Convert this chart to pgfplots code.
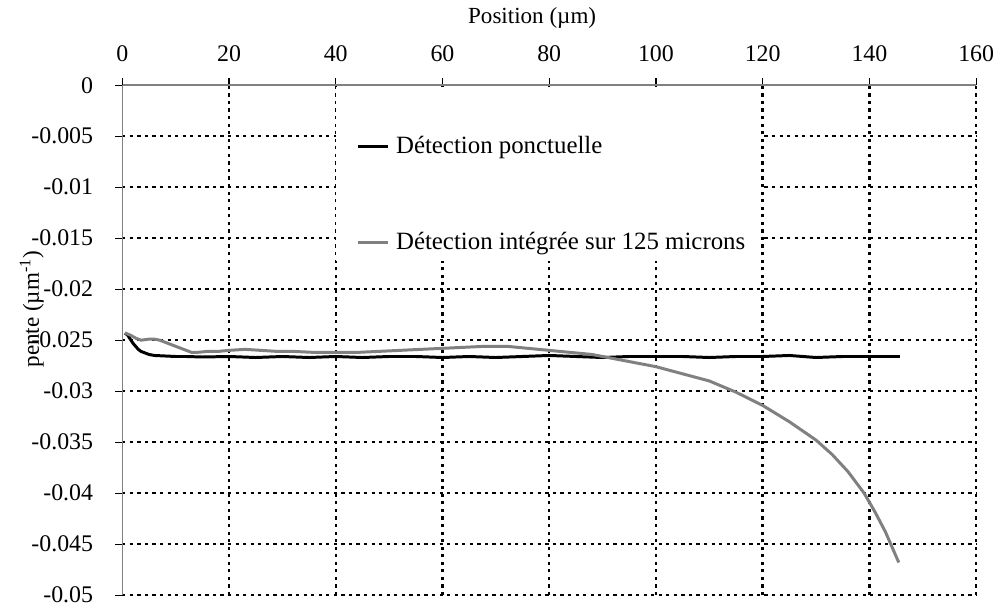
\documentclass[border=0pt,12pt]{standalone}
\usepackage{fontspec}
\setmainfont{Liberation Serif}
\usepackage{pgfplots}
\pgfplotsset{compat=1.18}
\definecolor{sgray}{RGB}{128,128,128}
\begin{document}
\begin{tikzpicture}
\begin{axis}[
  scale only axis,
  width=429.5pt, height=256.5pt,
  xmin=0, xmax=160, ymin=-0.05, ymax=0,
  axis x line*=top, axis y line*=left,
  axis line style={sgray, line width=0.75pt, -},
  xtick={20,40,...,160},
  xticklabels={20,40,60,80,100,120,140,160},
  extra x ticks={0}, extra x tick labels={0},
  ytick={-0.05,-0.045,-0.04,-0.035,-0.03,-0.025,-0.02,-0.015,-0.01,-0.005},
  yticklabels={-0.05,-0.045,-0.04,-0.035,-0.03,-0.025,-0.02,-0.015,-0.01,-0.005},
  extra y ticks={0}, extra y tick labels={0},
  extra tick style={grid=none},
  scaled y ticks=false,
  tick align=outside,
  major tick length=3.5pt,
  tick style={black, line width=0.6pt},
  grid=major,
  major grid style={black, line width=1.25pt, dash pattern=on 1.6pt off 2.2pt},
  tick label style={font=\fontsize{12}{14}\selectfont},
  label style={font=\fontsize{11.6}{14}\selectfont},
  xticklabel style={yshift=4pt},
  yticklabel style={xshift=-7pt},
  xlabel={Position (µm)},
  xlabel style={at={(rel axis cs:0.48,1.131)}, anchor=center},
  ylabel={pente (µm\textsuperscript{-1})},
  ylabel style={at={(rel axis cs:-0.106,0.561)}, anchor=center, rotate=0},
  clip=false,
  legend cell align=left,
  legend image code/.code={\draw[#1] (0pt,0pt) -- (15pt,0pt);},
  legend style={at={(rel axis cs:0.2736,0.909)}, anchor=north west, draw=none, fill=none,
    inner sep=0pt, row sep=34pt, font=\fontsize{12.5}{15}\selectfont,
    nodes={inner xsep=3.5pt}},
]
\path[draw=none] (rel axis cs:-0.1432,-0.0234) rectangle (rel axis cs:1.0233,1.1657);
\fill[white] (rel axis cs:0.2503,0.655) rectangle (rel axis cs:0.7485,0.996);
\addplot[black, line width=1.5pt] coordinates {
(0.5,-0.0243) (1,-0.0245) (1.5,-0.0249) (2,-0.0253) (2.5,-0.0256) (3,-0.0259)
(3.5,-0.0261) (4,-0.0262) (5,-0.0264) (6,-0.0265) (8,-0.02655) (10,-0.0266)
(12,-0.0266) (15,-0.02665) (20,-0.0266) (25,-0.0267) (30,-0.0266) (35,-0.0267)
(40,-0.0266) (45,-0.0267) (50,-0.0266) (55,-0.0266) (60,-0.0267) (65,-0.0266)
(70,-0.0267) (75,-0.0266) (80,-0.0265) (85,-0.0266) (90,-0.0267) (95,-0.0266)
(100,-0.0266) (105,-0.0266) (110,-0.0267) (115,-0.0266) (120,-0.0266)
(125,-0.0265) (130,-0.0267) (135,-0.0266) (140,-0.0266) (145.7,-0.0266)
};
\addlegendentry{Détection ponctuelle}
\addplot[sgray, line width=1.5pt] coordinates {
(0.5,-0.0243) (1.5,-0.0245) (2.5,-0.0248) (3.5,-0.0250) (5,-0.0249) (6,-0.0249)
(7,-0.0250) (8,-0.0252) (9,-0.0254) (10,-0.0256) (11,-0.0258) (12,-0.0260)
(13,-0.0262) (14,-0.0262) (16,-0.0261) (18,-0.0261) (20,-0.0260) (23,-0.0259)
(26,-0.0260) (29,-0.0261) (32,-0.0261) (36,-0.0262) (40,-0.0262) (44,-0.0262)
(48,-0.0261) (52,-0.0260) (56,-0.0259) (60,-0.0258) (64,-0.0257) (68,-0.0256)
(72,-0.0256) (76,-0.0258) (80,-0.0260) (84,-0.0262) (88,-0.0264) (90,-0.0266)
(92,-0.0268) (95,-0.0271) (100,-0.0276) (105,-0.0283) (110,-0.0290)
(115,-0.0301) (120,-0.0314) (125,-0.0330) (130,-0.0348) (133,-0.0362)
(136,-0.0379) (139,-0.0400) (141,-0.0418) (143,-0.0438) (145.5,-0.0468)
};
\addlegendentry{Détection intégrée sur 125 microns}
\end{axis}
\end{tikzpicture}
\end{document}
